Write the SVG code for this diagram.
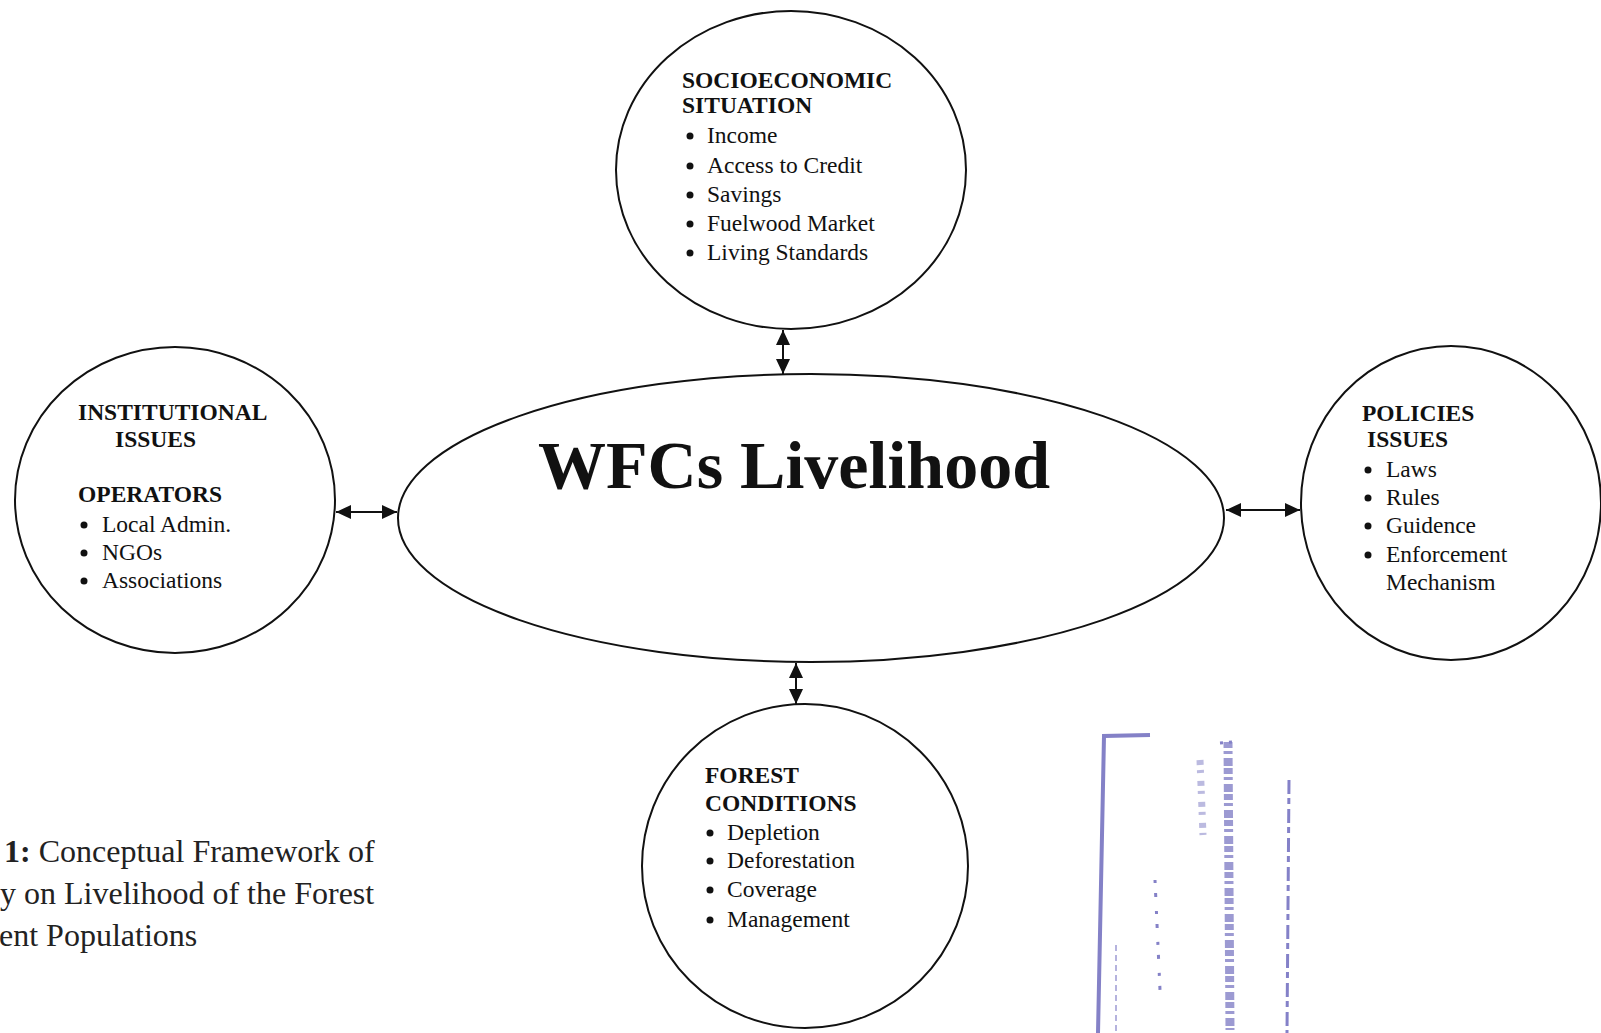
<svg xmlns="http://www.w3.org/2000/svg" width="1601" height="1033" viewBox="0 0 1601 1033">
<style>
.shape{fill:none;stroke:#111;stroke-width:2}
.h{font-family:"Liberation Serif","Times New Roman",serif;font-weight:bold;font-size:23.5px;fill:#111}
.t{font-family:"Liberation Serif","Times New Roman",serif;font-size:23.5px;fill:#111}
.big{font-family:"Liberation Serif","Times New Roman",serif;font-weight:bold;font-size:68px;fill:#111}
.cap{font-family:"Liberation Serif","Times New Roman",serif;font-size:32px;fill:#222}
.b{fill:#111}
.conn{stroke:#111;stroke-width:2;fill:none;marker-start:url(#ah);marker-end:url(#ah)}
.stamp{stroke:#5b57b5;fill:none}
</style>
<defs>
<marker id="ah" viewBox="0 0 15 14" refX="15" refY="7" markerWidth="15" markerHeight="14" markerUnits="userSpaceOnUse" orient="auto-start-reverse">
<path d="M0,0 L15,7 L0,14 z" fill="#111"/>
</marker>
</defs>
<rect width="1601" height="1033" fill="#fff"/>

<g id="connectors">
<line class="conn" x1="783" y1="330" x2="783" y2="374"/>
<line class="conn" x1="336" y1="512" x2="397" y2="512"/>
<line class="conn" x1="1226" y1="510" x2="1300" y2="510"/>
<line class="conn" x1="796" y1="663" x2="796" y2="704"/>
</g>

<g id="center">
<ellipse class="shape" cx="811" cy="518" rx="413" ry="144"/>
<text class="big" x="538" y="488">WFCs Livelihood</text>
</g>

<g id="socioeconomic">
<ellipse class="shape" cx="791" cy="170" rx="175" ry="159"/>
<text class="h" x="682" y="88">SOCIOECONOMIC</text>
<text class="h" x="682" y="113">SITUATION</text>
<g class="b">
<circle cx="690" cy="136" r="3.5"/><circle cx="690" cy="166" r="3.5"/><circle cx="690" cy="195" r="3.5"/><circle cx="690" cy="224" r="3.5"/><circle cx="690" cy="253" r="3.5"/>
</g>
<g class="t">
<text x="707" y="143">Income</text>
<text x="707" y="173">Access to Credit</text>
<text x="707" y="202">Savings</text>
<text x="707" y="231">Fuelwood Market</text>
<text x="707" y="260">Living Standards</text>
</g>
</g>

<g id="institutional">
<ellipse class="shape" cx="175" cy="500" rx="160" ry="153"/>
<text class="h" x="78" y="420">INSTITUTIONAL</text>
<text class="h" x="115" y="447">ISSUES</text>
<text class="h" x="78" y="502">OPERATORS</text>
<g class="b">
<circle cx="84" cy="525" r="3.5"/><circle cx="84" cy="553" r="3.5"/><circle cx="84" cy="581" r="3.5"/>
</g>
<g class="t">
<text x="102" y="532">Local Admin.</text>
<text x="102" y="560">NGOs</text>
<text x="102" y="588">Associations</text>
</g>
</g>

<g id="policies">
<ellipse class="shape" cx="1451" cy="503" rx="150" ry="157"/>
<text class="h" x="1362" y="421">POLICIES</text>
<text class="h" x="1367" y="447">ISSUES</text>
<g class="b">
<circle cx="1368" cy="470" r="3.5"/><circle cx="1368" cy="498" r="3.5"/><circle cx="1368" cy="526" r="3.5"/><circle cx="1368" cy="555" r="3.5"/>
</g>
<g class="t">
<text x="1386" y="477">Laws</text>
<text x="1386" y="505">Rules</text>
<text x="1386" y="533">Guidence</text>
<text x="1386" y="562">Enforcement</text>
<text x="1386" y="590">Mechanism</text>
</g>
</g>

<g id="forest">
<ellipse class="shape" cx="805" cy="866" rx="163" ry="162"/>
<text class="h" x="705" y="783">FOREST</text>
<text class="h" x="705" y="811">CONDITIONS</text>
<g class="b">
<circle cx="710" cy="833" r="3.5"/><circle cx="710" cy="861" r="3.5"/><circle cx="710" cy="890" r="3.5"/><circle cx="710" cy="920" r="3.5"/>
</g>
<g class="t">
<text x="727" y="840">Depletion</text>
<text x="727" y="868">Deforestation</text>
<text x="727" y="897">Coverage</text>
<text x="727" y="927">Management</text>
</g>
</g>

<g id="caption">
<text class="cap" x="4" y="862"><tspan font-weight="bold">1:</tspan> Conceptual Framework of</text>
<text class="cap" x="0" y="904">y on Livelihood of the Forest</text>
<text class="cap" x="-1" y="946">ent Populations</text>
</g>

<g id="stamp" opacity="0.75">
<path class="stamp" stroke-width="4" d="M1150,735 L1104,736 L1098,1033"/>
<path class="stamp" stroke-width="3" stroke-dasharray="14 4 6 5" d="M1289,780 L1287,1033"/>
<path class="stamp" stroke-width="9" stroke-dasharray="6 3 3 4 8 2" opacity="0.8" d="M1228,742 L1230,1030"/>
<path class="stamp" stroke-width="7" stroke-dasharray="5 5 3 8" opacity="0.55" d="M1200,760 L1203,835"/>
<path class="stamp" stroke-width="3" stroke-dasharray="3 10 4 14" d="M1155,880 L1160,990"/>
<path class="stamp" stroke-width="3" stroke-dasharray="3 6" d="M1220,743 L1233,742"/>
<path class="stamp" stroke-width="2" stroke-dasharray="6 4" opacity="0.6" d="M1116,945 L1116,1033"/>
</g>
</svg>
